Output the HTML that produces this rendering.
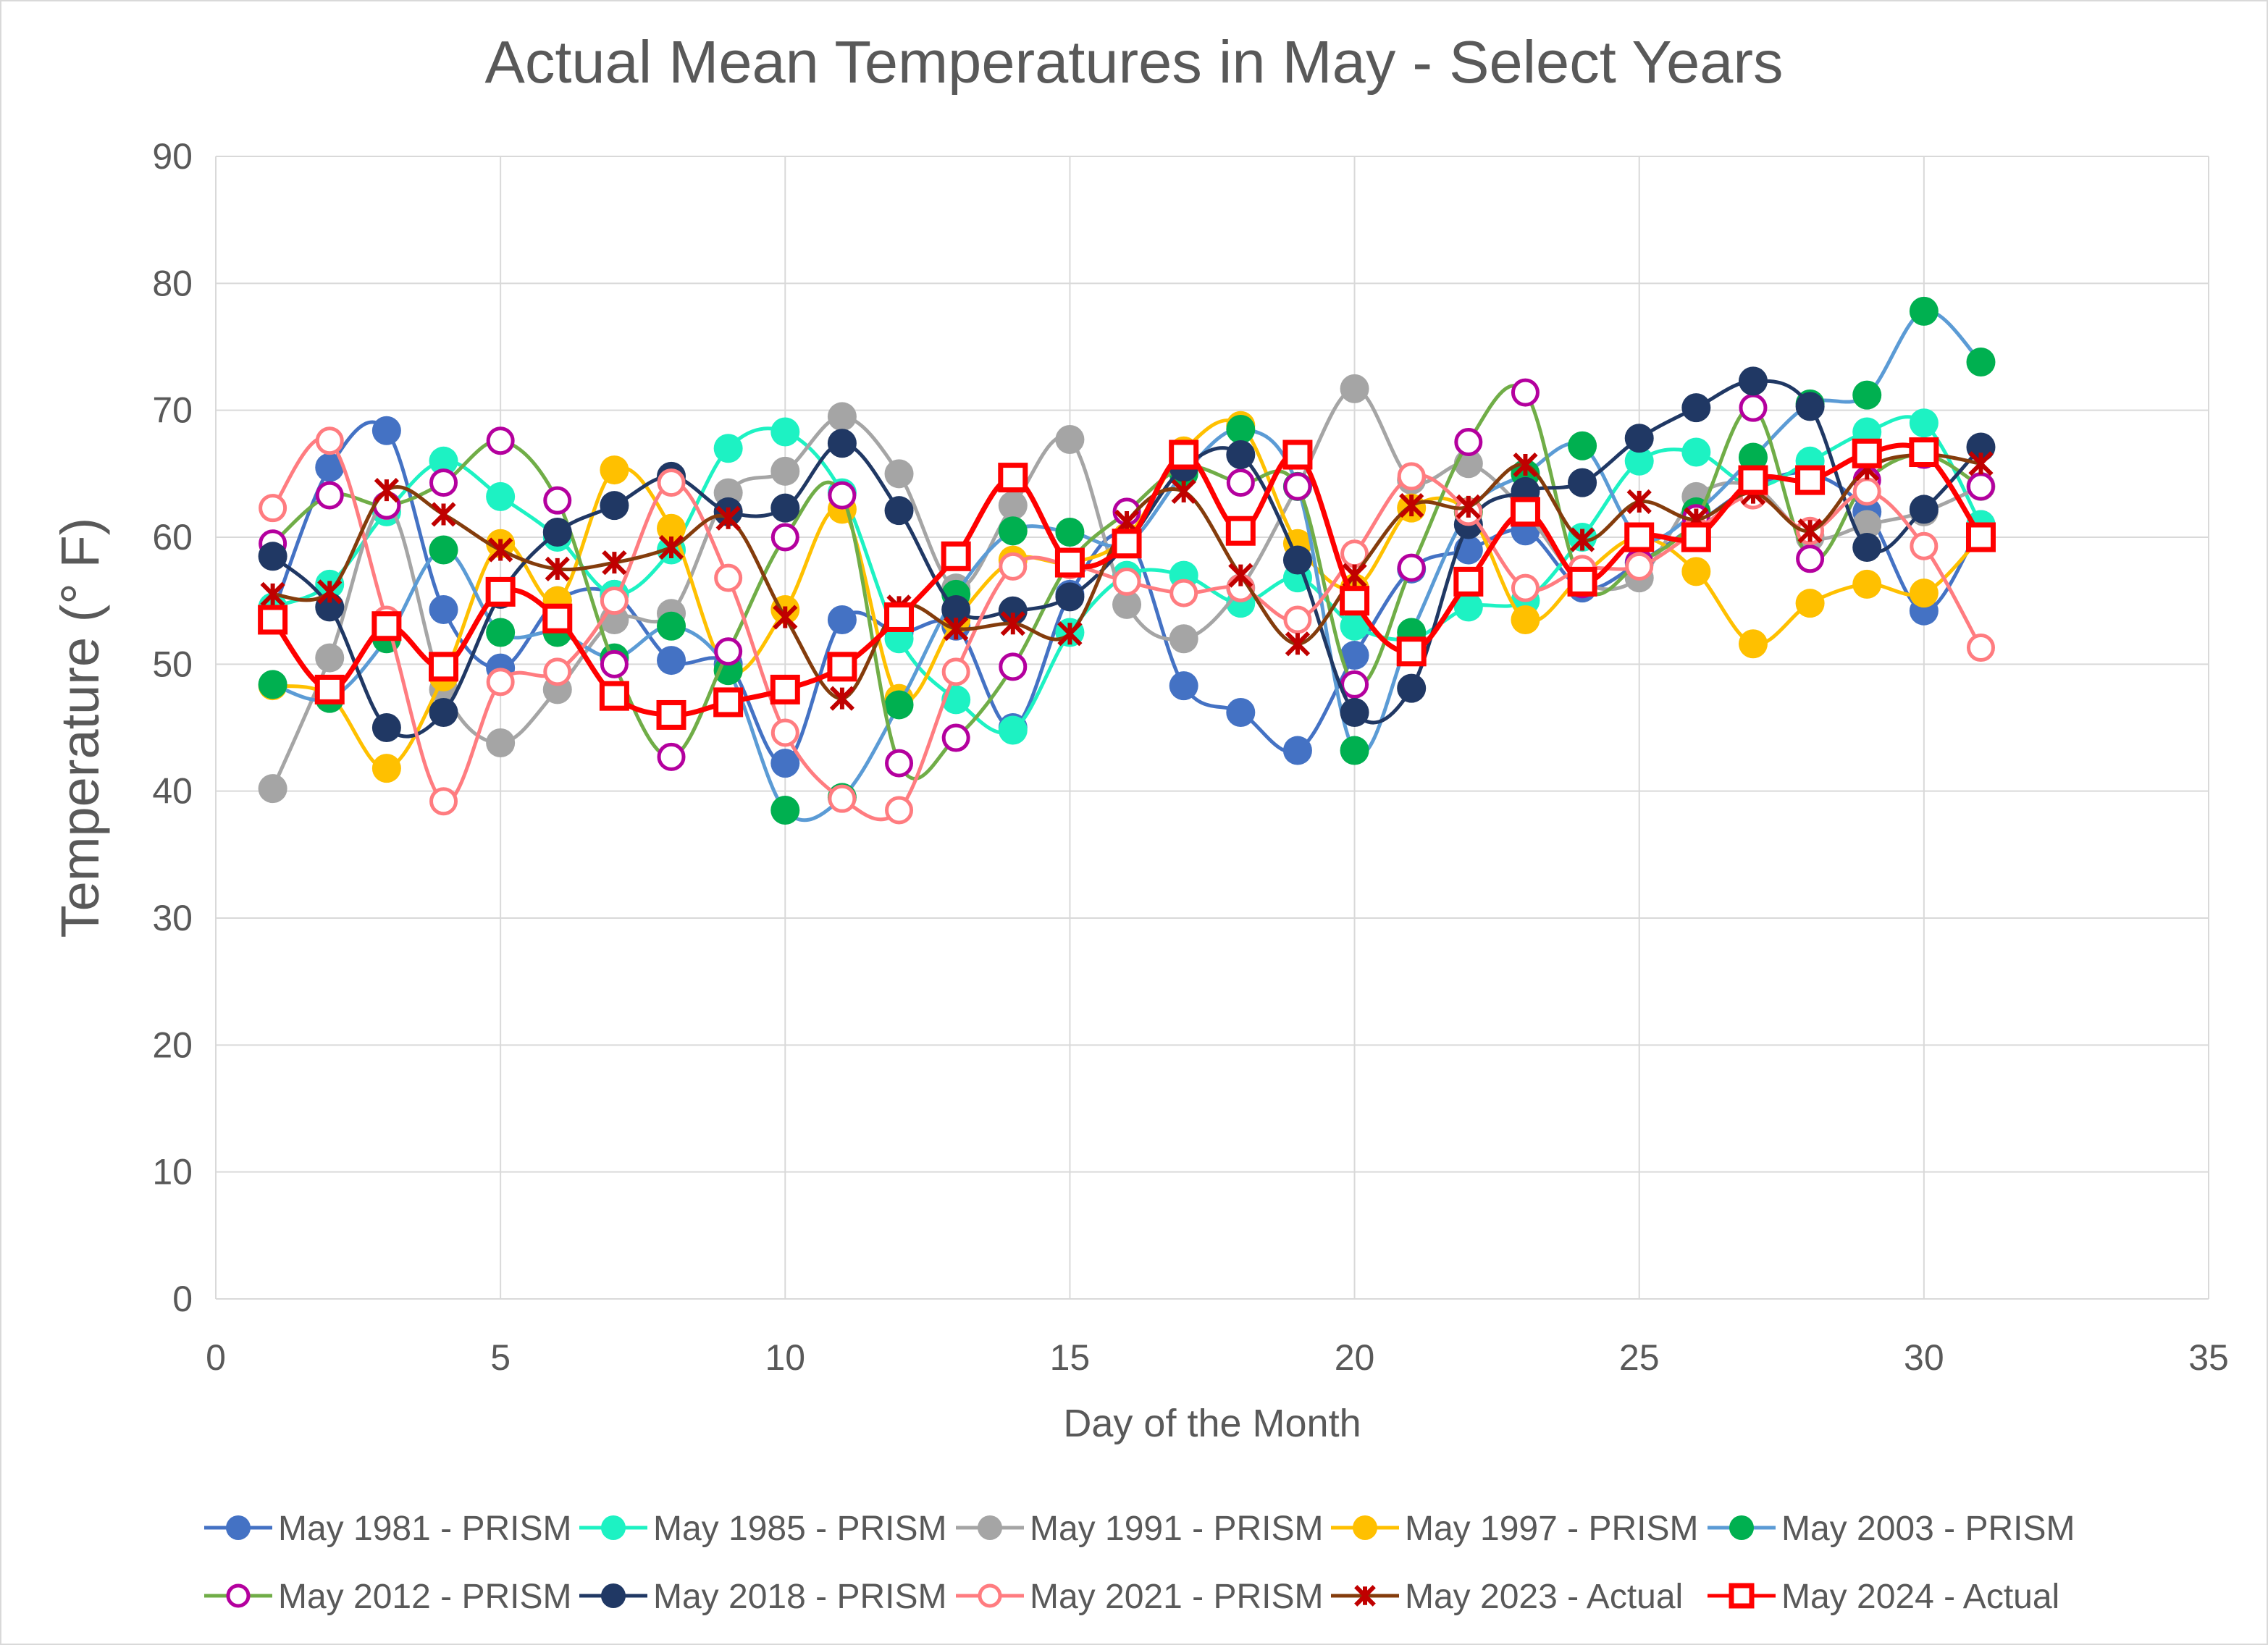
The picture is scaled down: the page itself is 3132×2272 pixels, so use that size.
<!DOCTYPE html>
<html><head><meta charset="utf-8"><style>
html,body{margin:0;padding:0;background:#fff}
svg{display:block;font-family:"Liberation Sans",sans-serif}
</style></head><body>
<svg id="chart" width="3132" height="2272" viewBox="0 0 3132 2272" xmlns="http://www.w3.org/2000/svg">
<rect x="1" y="1" width="3130" height="2270" fill="#fff" stroke="#d9d9d9" stroke-width="2"/>
<text x="1566" y="114" text-anchor="middle" font-size="83" fill="#595959">Actual Mean Temperatures in May - Select Years</text>
<g id="grid"></g>
<g id="axes"></g>
<g id="series"></g>
<g id="legend"></g>
<text transform="translate(136,1005) rotate(-90)" text-anchor="middle" font-size="74" fill="#595959">Temperature (° F)</text>
<text x="1674" y="1984" text-anchor="middle" font-size="54" fill="#595959">Day of the Month</text>
</svg>
<script>
const days = Array.from({length:31},(_,i)=>i+1);
const xTicks = [0,5,10,15,20,25,30,35];
const yTicks = [0,10,20,30,40,50,60,70,80,90];
const seriesNames = ["May 1981 - PRISM","May 1985 - PRISM","May 1991 - PRISM","May 1997 - PRISM","May 2003 - PRISM","May 2012 - PRISM","May 2018 - PRISM","May 2021 - PRISM","May 2023 - Actual","May 2024 - Actual"];
const v1981 = [54,65.5,68.4,54.3,49.7,55,55.5,50.3,50,42.2,53.5,52.5,53,45,55.5,60,48.3,46.2,43.2,50.7,57.5,59,60.5,56,58,61,64,65,62,54.2,61];
const v1985 = [54.5,56.3,62,66,63.2,60,55.5,59,67,68.3,63.5,52,47.2,44.8,52.5,57,57,54.8,56.8,53,52,54.5,55,60,66,66.7,64,66,68.3,69,61];
const v1991 = [40.2,50.5,62.5,48,43.8,48,53.5,54,63.5,65.2,69.5,65,56,62.5,67.7,54.7,52,56,64,71.7,64.5,65.8,62,56.5,56.8,63.2,64,60,61,62,64];
const v1997 = [48.3,47.5,41.8,49,59.5,55,65.3,60.7,49.5,54.3,62.2,47.3,53.5,58.2,58,60,66.8,68.8,59.5,56,62.3,62,53.5,57,60,57.3,51.6,54.8,56.3,55.6,60];
const v2003 = [48.4,47.3,52,59,52.5,52.5,50.5,53,49.5,38.5,39.5,46.8,55.5,60.5,60.4,59.5,65,68.5,64,43.2,52.5,62,65,67.2,60,62,66.3,70.5,71.2,77.8,73.8];
const v2012 = [59.5,63.3,62.5,64.3,67.6,62.9,50,42.7,51,60,63.3,42.2,44.2,49.8,58,62,65.5,64.3,64,48.4,57.6,67.5,71.4,56.3,58,61.5,70.2,58.3,64.5,66.5,64];
const v2018 = [58.5,54.5,45,46.2,55.5,60.4,62.5,64.8,62,62.3,67.4,62.1,54.3,54.2,55.3,59.5,65.5,66.5,58.2,46.2,48.1,61,63.6,64.3,67.8,70.2,72.3,70.3,59.2,62.2,67.1];
const v2021 = [62.3,67.6,53.5,39.2,48.6,49.4,55,64.3,56.8,44.6,39.4,38.5,49.4,57.7,57.8,56.5,55.6,56,53.5,58.7,64.8,62,56,57.5,57.7,60.5,63.3,60.5,63.6,59.3,51.3];
const v2023 = [55.5,55.7,63.7,61.8,59,57.5,58,59.2,61.5,53.7,47.3,54.5,52.8,53.2,52.4,61.2,63.6,57,51.6,57,62.5,62.4,65.7,59.8,62.8,61.4,63.5,60.5,65.4,66.5,65.8];
const v2024 = [53.5,48,53,49.8,55.7,53.6,47.5,46,47,48,49.8,53.7,58.5,64.7,58,59.5,66.5,60.5,66.5,55,51,56.5,62,56.5,60,60,64.5,64.5,66.6,66.7,60];

const NS="http://www.w3.org/2000/svg";
const X0=298,X1=3050,Y0=1794,Y1=216;
const xs=v=>X0+(v-0)/35*(X1-X0);
const ys=v=>Y0-(v-0)/90*(Y0-Y1);
function mk(tag,attrs,parent){const e=document.createElementNS(NS,tag);for(const k in attrs)e.setAttribute(k,attrs[k]);parent.appendChild(e);return e;}
const grid=document.getElementById('grid'),axes=document.getElementById('axes');
yTicks.forEach(t=>{
 const l=mk('line',{x1:X0,x2:X1,y1:ys(t),y2:ys(t),stroke:'#d9d9d9','stroke-width':2},grid);
 
 
 const tx=mk('text',{x:X0-32,y:ys(t)+17,'text-anchor':'end','font-size':50,fill:'#595959'},axes);
 tx.textContent=t;
 
 
});
xTicks.forEach(t=>{
 const l=mk('line',{x1:xs(t),x2:xs(t),y1:Y0,y2:Y1,stroke:'#d9d9d9','stroke-width':2},grid);
 
 
 const tx=mk('text',{x:xs(t),y:Y0+98,'text-anchor':'middle','font-size':50,fill:'#595959'},axes);
 tx.textContent=t;
 
 
});
const styles=[
 {c:'#4472C4',m:'dot',lc:'#4472C4'},
 {c:'#1DF2C3',m:'dot',lc:'#1DF2C3'},
 {c:'#A5A5A5',m:'dot',lc:'#A5A5A5'},
 {c:'#FFC000',m:'dot',lc:'#FFC000'},
 {c:'#00B050',m:'dot',lc:'#5B9BD5'},
 {c:'#B4009E',m:'ring',lc:'#70AD47'},
 {c:'#203864',m:'dot',lc:'#203864'},
 {c:'#FF7C80',m:'ring',lc:'#FF7C80'},
 {c:'#C00000',m:'x',lc:'#843C0C'},
 {c:'#FF0000',m:'sq',lc:'#FF0000'}
];
const allVals=[v1981,v1985,v1991,v1997,v2003,v2012,v2018,v2021,v2023,v2024];
function smooth(p){let d=`M${p[0][0]},${p[0][1]}`;for(let i=0;i<p.length-1;i++){const a=p[i-1]||p[i],b=p[i],c=p[i+1],e=p[i+2]||c;const t=1/6;d+=` C${b[0]+(c[0]-a[0])*t},${b[1]+(c[1]-a[1])*t} ${c[0]-(e[0]-b[0])*t},${c[1]-(e[1]-b[1])*t} ${c[0]},${c[1]}`;}return d;}
function marker(g,s,x,y,r){
 let e;
 if(s.m==='dot'){e=mk('circle',{cx:x,cy:y,r:r,fill:s.c},g);}
 else if(s.m==='ring'){e=mk('circle',{cx:x,cy:y,r:r-3,fill:'#fff',stroke:s.c,'stroke-width':5},g);}
 else if(s.m==='sq'){e=mk('rect',{x:x-r+3,y:y-r+3,width:2*r-6,height:2*r-6,fill:'#fff',stroke:s.c,'stroke-width':7},g);}
 else {const k=r*0.75;e=mk('path',{d:`M${x-k},${y-k}L${x+k},${y+k}M${x+k},${y-k}L${x-k},${y+k}M${x},${y-k}L${x},${y+k}`,stroke:s.c,'stroke-width':6,fill:'none'},g);}
 return e;
}
const sg=document.getElementById('series');
allVals.forEach((vals,si)=>{
 const s=styles[si];
 const g=mk('g',{},sg);
 
 
 const pts=days.map((d,i)=>[xs(d),ys(vals[i])]);
 const p=mk('path',{d:smooth(pts),fill:'none',stroke:s.lc,'stroke-width':si===9?7:5},g);
 
 
 pts.forEach(pt=>{
  const m=marker(g,s,pt[0],pt[1],20);
  
  
 });
});
const lg=document.getElementById('legend');
const lx=[282,800,1320,1838,2358];
seriesNames.forEach((n,i)=>{
 const s=styles[i];const x=lx[i%5],y=i<5?2110:2204;
 const g=mk('g',{},lg);
 
 
 mk('line',{x1:x,x2:x+94,y1:y,y2:y,stroke:s.lc,'stroke-width':5},g);
 marker(g,s,x+47,y,17);
 const t=mk('text',{x:x+102,y:y+17,'font-size':48,fill:'#595959'},g);
 t.textContent=n;
 
 
});
</script>
</body></html>
